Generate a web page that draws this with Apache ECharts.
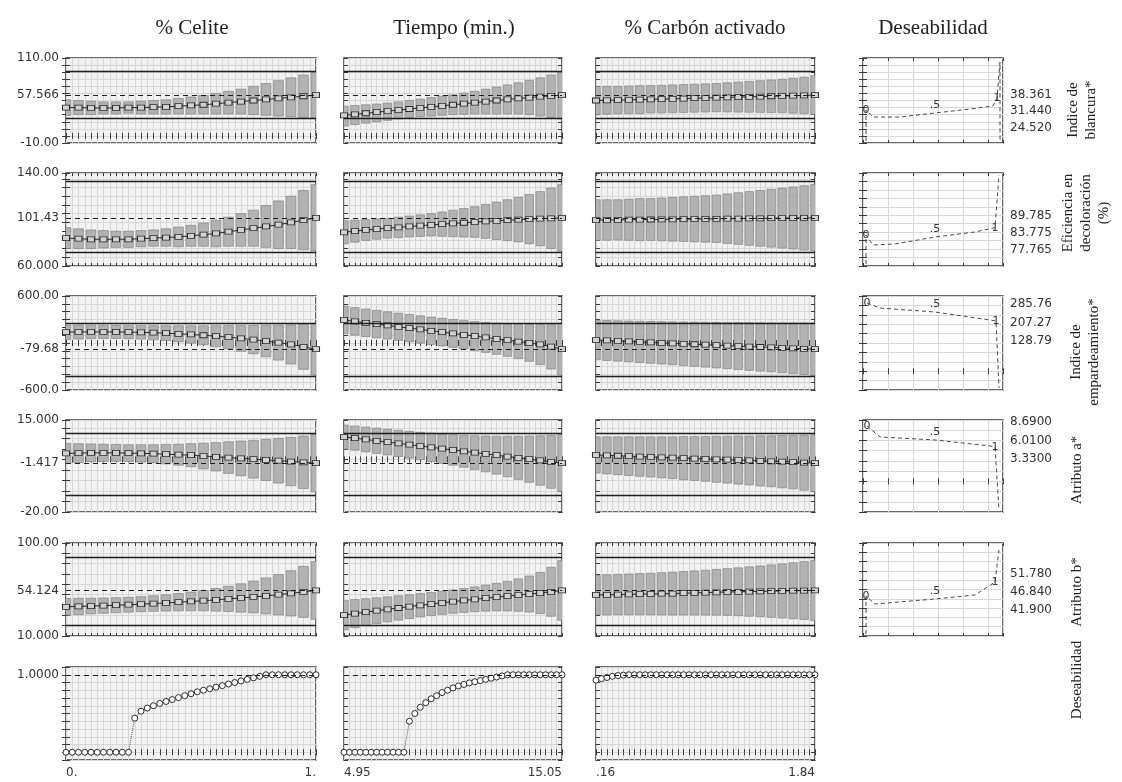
<!DOCTYPE html>
<html>
<head>
<meta charset="utf-8">
<script src="https://cdn.jsdelivr.net/npm/echarts@6/dist/echarts.min.js"></script>
<style>
  html, body { margin: 0; padding: 0; background: #fff; }
  #chart { width: 1122px; height: 782px; }
</style>
</head>
<body>
<div id="chart"></div>
<script>
// factor levels (x) for each column
const celiteX = [0, 0.025, 0.05, 0.075, 0.1, 0.125, 0.15, 0.175, 0.2, 0.225, 0.25, 0.275, 0.3, 0.325, 0.35, 0.375, 0.4, 0.425, 0.45, 0.475, 0.5,
  0.525, 0.55, 0.575, 0.6, 0.625, 0.65, 0.675, 0.7, 0.725, 0.75, 0.775, 0.8, 0.825, 0.85, 0.875, 0.9, 0.925, 0.95, 0.975, 1];
const tiempoX = [4.95, 5.2025, 5.455, 5.7075, 5.96, 6.2125, 6.465, 6.7175, 6.97, 7.2225, 7.475, 7.7275, 7.98, 8.2325, 8.485, 8.7375, 8.99, 9.2425, 9.495, 9.7475, 10.0,
  10.2525, 10.505, 10.7575, 11.01, 11.2625, 11.515, 11.7675, 12.02, 12.2725, 12.525, 12.7775, 13.03, 13.2825, 13.535, 13.7875, 14.04, 14.2925, 14.545, 14.7975, 15.05];
const carbonX = [0.16, 0.202, 0.244, 0.286, 0.328, 0.37, 0.412, 0.454, 0.496, 0.538, 0.58, 0.622, 0.664, 0.706, 0.748, 0.79, 0.832, 0.874, 0.916, 0.958, 1.0,
  1.042, 1.084, 1.126, 1.168, 1.21, 1.252, 1.294, 1.336, 1.378, 1.42, 1.462, 1.504, 1.546, 1.588, 1.63, 1.672, 1.714, 1.756, 1.798, 1.84];

const colTitles = ['% Celite', 'Tiempo (min.)', '% Carbón activado', 'Deseabilidad'];
const xTickLabels = [['0.', '1.'], ['4.95', '15.05'], ['.16', '1.84']];
const rowTitles = ['Indice de\nblancura*', 'Eficiencia en\ndecoloración\n(%)', 'Indice de\nempardeamiento*', 'Atributo a*', 'Atributo b*', 'Deseabilidad'];

// y axes of the profile rows
const rowMin = [-10, 60, -600, -20, 10, -0.1];
const rowMax = [110, 140, 600, 15, 100, 1.1];
const rowStep = [10, 7.5, 100, 4, 10, 0.1];
const yTickLabels = [['110.00', '57.566', '-10.00'], ['140.00', '101.43', '60.000'], ['600.00', '-79.68', '-600.0'],
  ['15.000', '-1.417', '-20.00'], ['100.00', '54.124', '10.000'], ['1.0000']];
const currentValue = [57.566, 101.43, -79.68, -1.417, 54.124, 1.0];
const limitLines = [[92, 25], [132.5, 71.5], [250, -420], [9.8, -13.5], [85.8, 20.6], []];

// predicted value / confidence limits (21 levels per factor)
const blancuraCelitePred = [40, 40, 39.5, 39.5, 39.5, 40, 40, 40.5, 41, 42, 43, 44, 45.5, 47, 48.5, 50, 51.5, 53, 54.5, 56, 57.6];
const blancuraCeliteHi = [51, 50, 49, 48, 48, 48, 49, 50, 51, 53, 55, 57, 60, 63, 66, 70, 74, 78, 82, 86, 90];
const blancuraCeliteLo = [29, 30, 30, 31, 31, 32, 31, 31, 31, 31, 31, 31, 31, 31, 31, 30, 29, 28, 27, 26, 25];
const blancuraTiempoPred = [29, 30.5, 32, 33.5, 35, 36.5, 38, 39.5, 41, 42.5, 44, 45.5, 47, 48.5, 50, 51.5, 53, 54, 55.5, 56.5, 57.6];
const blancuraTiempoHi = [42, 43, 44, 45, 46.5, 48, 50, 52, 54, 56, 58, 60.5, 63, 66, 69, 72, 75, 78.5, 82, 86, 90];
const blancuraTiempoLo = [14, 16, 18, 20, 22, 24, 26, 27, 28, 29, 30, 30.5, 31, 31, 31, 31, 31, 30, 28, 26, 24];
const blancuraCarbonPred = [50, 50.3, 50.6, 51, 51.3, 51.7, 52, 52.4, 52.8, 53.2, 53.6, 54, 54.4, 54.8, 55.2, 55.6, 56, 56.4, 56.8, 57.2, 57.6];
const blancuraCarbonHi = [70, 70, 70, 70.5, 71, 71, 71.5, 72, 72.5, 73, 73.5, 74, 75, 76, 77, 78, 79, 80, 81.5, 83, 85];
const blancuraCarbonLo = [30, 30.6, 31.2, 31.5, 31.6, 32.4, 32.5, 32.8, 33.1, 33.4, 33.7, 34, 33.8, 33.6, 33.4, 33.2, 33, 32.8, 32.1, 31.4, 30.2];

const eficienciaCelitePred = [84, 83.5, 83, 83, 83, 83, 83.5, 84, 84.5, 85, 86, 87, 88, 89.5, 91, 92.5, 94, 95.5, 97.5, 99.5, 101.4];
const eficienciaCeliteHi = [93, 92, 91, 90.5, 90, 90, 90.5, 91, 92, 93.5, 95, 97, 99.5, 102, 105, 108, 112, 116, 120, 125, 130];
const eficienciaCeliteLo = [75, 75, 75, 75.5, 76, 76, 76.5, 77, 77, 76.5, 77, 77, 76.5, 77, 77, 77, 76, 75, 75, 74, 73];
const eficienciaTiempoPred = [89, 90, 91, 91.8, 92.5, 93.2, 94, 94.7, 95.4, 96, 96.6, 97.2, 97.8, 98.4, 98.9, 99.4, 99.9, 100.3, 100.7, 101, 101.4];
const eficienciaTiempoHi = [99, 99.5, 100, 100.5, 101, 102, 103, 104, 105, 106.5, 108, 109.5, 111, 113, 115, 117, 119, 121.5, 124, 127, 130];
const eficienciaTiempoLo = [79, 80.5, 82, 83, 84, 84.4, 85, 85.4, 85.8, 85.5, 85.2, 84.9, 84.6, 83.8, 82.8, 81.8, 80.8, 79.1, 77.4, 75, 72.8];
const eficienciaCarbonPred = [99.5, 99.6, 99.7, 99.8, 99.9, 100, 100.1, 100.2, 100.3, 100.4, 100.5, 100.6, 100.7, 100.8, 100.9, 101, 101.1, 101.2, 101.3, 101.35, 101.43];
const eficienciaCarbonHi = [117, 117, 117, 117.5, 118, 118, 118.5, 119, 119.5, 120, 120.5, 121, 122, 123, 124, 125, 126, 127, 128, 129, 130];
const eficienciaCarbonLo = [82, 82.2, 82.4, 82.1, 81.8, 82, 81.7, 81.4, 81.1, 80.8, 80.5, 80.2, 79.4, 78.6, 77.8, 77, 76.2, 75.4, 74.6, 73.7, 72.9];

const pardeamientoCelitePred = [140, 141, 142, 142, 141, 139, 136, 131, 125, 118, 109, 99, 87, 74, 59, 43, 25, 5, -18, -48, -79.7];
const pardeamientoCeliteHi = [230, 229, 228, 226, 224, 223, 222, 221, 220, 220, 220, 220, 221, 222, 223, 224, 226, 228, 232, 240, 250];
const pardeamientoCeliteLo = [45, 50, 54, 57, 57, 55, 50, 41, 30, 16, -2, -22, -47, -74, -105, -138, -176, -218, -268, -336, -410];
const pardeamientoTiempoPred = [294, 276, 258, 241, 224, 207, 190, 173, 156, 139, 122, 105, 88, 71, 54, 37, 19, 1, -19, -45, -79.7];
const pardeamientoTiempoHi = [470, 452, 434, 416, 398, 381, 364, 347, 331, 315, 300, 286, 273, 262, 252, 244, 238, 236, 238, 243, 250];
const pardeamientoTiempoLo = [118, 100, 82, 66, 50, 33, 16, -1, -19, -37, -56, -76, -97, -120, -144, -170, -200, -234, -276, -333, -409];
const pardeamientoCarbonPred = [38, 32, 26, 20, 14, 8, 2, -4, -10, -16, -22, -28, -34, -40, -46, -51, -56, -62, -68, -74, -79.7];
const pardeamientoCarbonHi = [290, 287, 284, 281, 278, 275, 272, 270, 268, 266, 264, 262, 260, 259, 258, 257, 256, 255, 255, 255, 255];
const pardeamientoCarbonLo = [-214, -223, -232, -241, -250, -259, -268, -278, -288, -298, -308, -318, -328, -339, -350, -359, -368, -379, -391, -403, -414];

const atribACelitePred = [2.3, 2.4, 2.5, 2.5, 2.5, 2.4, 2.3, 2.2, 2.0, 1.8, 1.6, 1.3, 1.0, 0.7, 0.4, 0.1, -0.2, -0.5, -0.8, -1.1, -1.42];
const atribACeliteHi = [6.1, 6.0, 5.9, 5.8, 5.7, 5.6, 5.6, 5.6, 5.7, 5.8, 6.0, 6.2, 6.4, 6.7, 7.0, 7.3, 7.6, 8.0, 8.4, 8.9, 9.5];
const atribACeliteLo = [-1.5, -1.2, -0.9, -0.8, -0.7, -0.8, -1.0, -1.2, -1.7, -2.2, -2.8, -3.6, -4.4, -5.3, -6.2, -7.1, -8.0, -9.0, -10.0, -11.1, -12.3];
const atribATiempoPred = [8.5, 8.1, 7.6, 7.1, 6.6, 6.1, 5.6, 5.1, 4.6, 4.1, 3.6, 3.1, 2.6, 2.1, 1.6, 1.1, 0.6, 0.1, -0.4, -0.9, -1.42];
const atribATiempoHi = [13.1, 12.7, 12.3, 11.9, 11.5, 11.1, 10.7, 10.3, 10.0, 9.7, 9.4, 9.2, 9.0, 8.9, 8.8, 8.8, 8.8, 8.9, 9.0, 9.2, 9.5];
const atribATiempoLo = [3.9, 3.5, 2.9, 2.3, 1.7, 1.1, 0.5, -0.1, -0.8, -1.5, -2.2, -3.0, -3.8, -4.7, -5.6, -6.6, -7.6, -8.7, -9.8, -11.0, -12.3];
const atribACarbonPred = [1.7, 1.55, 1.4, 1.25, 1.1, 0.95, 0.8, 0.65, 0.5, 0.35, 0.2, 0.05, -0.1, -0.25, -0.4, -0.55, -0.7, -0.85, -1.0, -1.2, -1.42];
const atribACarbonHi = [8.6, 8.6, 8.6, 8.6, 8.6, 8.6, 8.6, 8.6, 8.7, 8.7, 8.7, 8.8, 8.8, 8.9, 8.9, 9.0, 9.0, 9.1, 9.2, 9.3, 9.4];
const atribACarbonLo = [-5.2, -5.5, -5.8, -6.1, -6.4, -6.7, -7.0, -7.3, -7.7, -8.0, -8.3, -8.7, -9.0, -9.4, -9.7, -10.1, -10.4, -10.8, -11.2, -11.7, -12.2];

const atribBCelitePred = [38.3, 38.6, 39, 39.4, 39.8, 40.3, 40.8, 41.4, 42, 42.7, 43.4, 44.2, 45, 45.9, 46.8, 47.8, 48.8, 50, 51.3, 52.7, 54.1];
const atribBCeliteHi = [46.5, 46.5, 46.6, 46.8, 47.1, 47.5, 48.1, 48.9, 49.9, 51.1, 52.5, 54.1, 56, 58.1, 60.5, 63.2, 66.2, 69.5, 73.2, 77.4, 82];
const atribBCeliteLo = [30.1, 30.7, 31.4, 32, 32.5, 33.1, 33.5, 33.9, 34.1, 34.3, 34.3, 34.3, 34, 33.7, 33.1, 32.4, 31.4, 30.5, 29.4, 28, 26.2];
const atribBTiempoPred = [30.3, 31.7, 33.1, 34.5, 35.8, 37.1, 38.4, 39.7, 40.9, 42.1, 43.3, 44.4, 45.5, 46.6, 47.6, 48.6, 49.6, 50.6, 51.6, 52.8, 54.1];
const atribBTiempoHi = [44.5, 45.3, 46.1, 47, 47.9, 48.9, 49.9, 51, 52.1, 53.3, 54.6, 56, 57.5, 59.2, 61, 63, 65.3, 68, 71.5, 76.5, 83];
const atribBTiempoLo = [16, 18, 20, 22, 23.7, 25.3, 26.9, 28.4, 29.7, 30.9, 32, 32.8, 33.5, 34, 34.2, 34.2, 33.9, 33.2, 31.7, 29.1, 25.2];
const atribBCarbonPred = [49.7, 49.9, 50.1, 50.3, 50.5, 50.7, 50.9, 51.1, 51.4, 51.7, 52, 52.3, 52.6, 52.8, 53, 53.2, 53.4, 53.6, 53.8, 54, 54.1];
const atribBCarbonHi = [69, 69.3, 69.6, 70, 70.4, 70.8, 71.3, 71.8, 72.4, 73, 73.7, 74.4, 75.2, 76, 76.9, 77.8, 78.8, 79.8, 80.9, 82, 83.2];
const atribBCarbonLo = [30.4, 30.5, 30.6, 30.6, 30.6, 30.6, 30.5, 30.4, 30.4, 30.4, 30.3, 30.2, 30, 29.6, 29.1, 28.6, 28, 27.4, 26.7, 26, 25];

// overall desirability (41 levels per factor)
const desCelite = [0, 0, 0, 0, 0, 0, 0, 0, 0, 0, 0, 0.44, 0.53, 0.57, 0.60, 0.63, 0.655, 0.68, 0.705, 0.73, 0.755,
  0.78, 0.80, 0.82, 0.84, 0.86, 0.88, 0.90, 0.92, 0.94, 0.96, 0.98, 1, 1, 1, 1, 1, 1, 1, 1, 1];
const desTiempo = [0, 0, 0, 0, 0, 0, 0, 0, 0, 0, 0, 0, 0.40, 0.50, 0.58, 0.64, 0.69, 0.73, 0.77, 0.80, 0.83,
  0.855, 0.875, 0.895, 0.91, 0.925, 0.94, 0.955, 0.97, 0.985, 1, 1, 1, 1, 1, 1, 1, 1, 1, 1, 1];
const desCarbon = [0.93, 0.95, 0.965, 0.98, 0.99, 0.995, 1, 1, 1, 1, 1, 1, 1, 1, 1, 1, 1, 1, 1, 1, 1,
  1, 1, 1, 1, 1, 1, 1, 1, 1, 1, 1, 1, 1, 1, 1, 1, 1, 1, 1, 1];

// desirability function curves of each response (last column)
const desAxisMin = [18, 72, -80, -4.5, 35];
const desAxisMax = [54, 105, 320, 9, 60];
const desAxisStep = [3, 3, 40, 1.5, 2.5];
const desTickLabels = [['38.361', '31.440', '24.520'], ['89.785', '83.775', '77.765'], ['285.76', '207.27', '128.79'],
  ['8.6900', '6.0100', '3.3300'], ['51.780', '46.840', '41.900']];
const desCurve1 = [[0.024, 18.85], [0.024, 31.98], [0.08, 29.01], [0.296, 29.01], [0.576, 30.71], [0.856, 32.4], [1.04, 33.67], [1.072, 37.06], [1.096, 52.3], [1.096, 19.27]];
const desCurve2 = [[0.024, 72.71], [0.024, 83.0], [0.08, 79.45], [0.256, 79.81], [0.576, 82.29], [0.896, 84.07], [1.056, 85.6], [1.088, 104.3]];
const desCurve3 = [[0.032, 290.2], [0.136, 268.9], [0.576, 251.9], [1.016, 217.9], [1.064, 213.6], [1.088, -71.5]];
const desCurve4 = [[0.032, 8.12], [0.136, 6.51], [0.576, 6.07], [1.016, 5.19], [1.056, 5.04], [1.088, -4.2]];
const desCurve5 = [[0.024, 35.54], [0.024, 45.75], [0.096, 43.6], [0.576, 44.95], [0.896, 46.02], [1.056, 49.52], [1.088, 58.12]];
const desCurveMarks = [[1, 4, 7], [1, 4, 6], [0, 2, 4], [0, 2, 4], [1, 3, 5]];
const desMarkText = ['0', '.5', '1'];

const factorX = [celiteX, tiempoX, carbonX];
const predTable = [
  [blancuraCelitePred, blancuraTiempoPred, blancuraCarbonPred],
  [eficienciaCelitePred, eficienciaTiempoPred, eficienciaCarbonPred],
  [pardeamientoCelitePred, pardeamientoTiempoPred, pardeamientoCarbonPred],
  [atribACelitePred, atribATiempoPred, atribACarbonPred],
  [atribBCelitePred, atribBTiempoPred, atribBCarbonPred]];
const hiTable = [
  [blancuraCeliteHi, blancuraTiempoHi, blancuraCarbonHi],
  [eficienciaCeliteHi, eficienciaTiempoHi, eficienciaCarbonHi],
  [pardeamientoCeliteHi, pardeamientoTiempoHi, pardeamientoCarbonHi],
  [atribACeliteHi, atribATiempoHi, atribACarbonHi],
  [atribBCeliteHi, atribBTiempoHi, atribBCarbonHi]];
const loTable = [
  [blancuraCeliteLo, blancuraTiempoLo, blancuraCarbonLo],
  [eficienciaCeliteLo, eficienciaTiempoLo, eficienciaCarbonLo],
  [pardeamientoCeliteLo, pardeamientoTiempoLo, pardeamientoCarbonLo],
  [atribACeliteLo, atribATiempoLo, atribACarbonLo],
  [atribBCeliteLo, atribBTiempoLo, atribBCarbonLo]];
const desTable = [desCelite, desTiempo, desCarbon];
const desCurves = [desCurve1, desCurve2, desCurve3, desCurve4, desCurve5];

// layout
const colLeft = [66, 344, 596, 863];
const colWidth = [250, 218, 219, 140];
const rowTop = [58, 173, 296, 420, 543, 667];
const rowHeight = [85, 93, 94, 92, 93, 93];
const xStep = [0.025, 0.2525, 0.042];

const frame = '#3a3a3a';
const labelFont = { fontFamily: 'DejaVu Sans', fontSize: 12, color: '#333' };
const grids = [], xAxes = [], yAxes = [], series = [];

function lookup(list) {
  return function (v) {
    const s = list.find(t => Math.abs(parseFloat(t) - v) < 1e-6);
    return s === undefined ? '' : s;
  };
}

function tick(len) {
  return { show: true, inside: true, length: len, lineStyle: { color: frame, width: 1 } };
}

function addPanel(p) {
  const gi = grids.length;
  grids.push({ left: p.left, top: p.top, width: p.width, height: p.height, show: true,
    backgroundColor: p.bg, borderColor: frame, borderWidth: 1.5 });
  const xi = xAxes.length;
  const base = { type: 'value', gridIndex: gi, min: p.xMin, max: p.xMax, interval: p.xStep, axisLine: { show: false } };
  xAxes.push(Object.assign({}, base, {
    position: 'bottom', axisTick: tick(3),
    splitLine: { show: true, lineStyle: { color: p.gridColor, width: 1 } },
    axisLabel: p.xLabels ? Object.assign({ show: true, customValues: p.xLabels.map(parseFloat), formatter: lookup(p.xLabels),
      alignMinLabel: 'left', alignMaxLabel: 'right', margin: 7 }, labelFont) : { show: false }
  }));
  xAxes.push(Object.assign({}, base, { position: 'top', axisTick: tick(3), splitLine: { show: false }, axisLabel: { show: false } }));
  const yi = yAxes.length;
  const ybase = { type: 'value', gridIndex: gi, min: p.yMin, max: p.yMax, interval: p.yStep, axisLine: { show: false } };
  yAxes.push(Object.assign({}, ybase, {
    position: 'left', axisTick: tick(4),
    splitLine: { show: true, lineStyle: { color: p.gridColor, width: 1 } },
    axisLabel: p.yLabels ? Object.assign({ show: true, customValues: p.yLabels.map(parseFloat), formatter: lookup(p.yLabels), margin: 7 }, labelFont) : { show: false }
  }));
  yAxes.push(Object.assign({}, ybase, {
    position: 'right', axisTick: tick(4), splitLine: { show: false },
    axisLabel: p.rLabels ? Object.assign({ show: true, customValues: p.rLabels.map(parseFloat), formatter: lookup(p.rLabels), margin: 7 }, labelFont) : { show: false }
  }));
  return { xi: xi, yi: yi };
}

for (let r = 0; r < 6; r++) {
  for (let c = 0; c < 3; c++) {
    const ax = addPanel({
      left: colLeft[c], top: rowTop[r], width: colWidth[c], height: rowHeight[r], bg: '#f2f2f2', gridColor: '#d7d7d7',
      xMin: factorX[c][0], xMax: factorX[c][factorX[c].length - 1], xStep: xStep[c],
      yMin: rowMin[r], yMax: rowMax[r], yStep: rowStep[r],
      xLabels: r === 5 ? xTickLabels[c] : null,
      yLabels: c === 0 ? yTickLabels[r] : null
    });
    const refLines = [{ yAxis: currentValue[r], lineStyle: { type: [5, 4], color: '#1e1e1e', width: 1 } }]
      .concat(limitLines[r].map(v => ({ yAxis: v, lineStyle: { type: 'solid', color: '#1e1e1e', width: 1.3 } })));
    if (r < 5) {
      const xs = factorX[c].filter((_, i) => i % 2 === 0);
      const pred = predTable[r][c], hi = hiTable[r][c], lo = loTable[r][c];
      const step = xs[1] - xs[0];
      series.push({
        type: 'custom', xAxisIndex: ax.xi, yAxisIndex: ax.yi, silent: true, clip: true,
        data: xs.map((x, i) => [x, lo[i], hi[i]]),
        renderItem: function (params, api) {
          const top = api.coord([api.value(0), api.value(2)]);
          const bot = api.coord([api.value(0), api.value(1)]);
          const w = api.size([step, 0])[0] * 0.78;
          return { type: 'rect', shape: { x: top[0] - w / 2, y: top[1], width: w, height: bot[1] - top[1] },
            style: { fill: '#b2b2b2', stroke: '#787878', lineWidth: 0.6 } };
        }
      });
      series.push({
        type: 'line', xAxisIndex: ax.xi, yAxisIndex: ax.yi, silent: true, z: 3,
        data: xs.map((x, i) => [x, pred[i]]),
        symbol: 'rect', symbolSize: [7, 5], showAllSymbol: true,
        itemStyle: { color: '#d2d2d2', borderColor: '#2c2c2c', borderWidth: 0.9 },
        lineStyle: { color: '#2c2c2c', width: 1 },
        markLine: { silent: true, symbol: 'none', label: { show: false }, data: refLines }
      });
    } else {
      series.push({
        type: 'line', xAxisIndex: ax.xi, yAxisIndex: ax.yi, silent: true, z: 3,
        data: factorX[c].map((x, i) => [x, desTable[c][i]]),
        symbol: 'circle', symbolSize: 6, showAllSymbol: true,
        itemStyle: { color: '#ffffff', borderColor: '#2c2c2c', borderWidth: 1 },
        lineStyle: { color: '#555', width: 1, type: 'dotted' },
        markLine: { silent: true, symbol: 'none', label: { show: false }, data: refLines }
      });
    }
  }
  if (r < 5) {
    const ax = addPanel({
      left: colLeft[3], top: rowTop[r], width: colWidth[3], height: rowHeight[r], bg: '#ffffff', gridColor: '#d9d9d9',
      xMin: 0, xMax: 1.12, xStep: 0.2,
      yMin: desAxisMin[r], yMax: desAxisMax[r], yStep: desAxisStep[r],
      rLabels: desTickLabels[r]
    });
    const marks = desCurveMarks[r];
    series.push({
      type: 'line', xAxisIndex: ax.xi, yAxisIndex: ax.yi, silent: true,
      data: desCurves[r].map((pt, i) => {
        const k = marks.indexOf(i);
        if (k < 0) return pt;
        return { value: pt, label: { show: true, formatter: desMarkText[k], position: k === 1 ? 'top' : 'inside',
          distance: 2, fontFamily: 'DejaVu Sans', fontSize: 11, color: '#333' } };
      }),
      symbol: 'circle', symbolSize: 1, showAllSymbol: true,
      itemStyle: { color: 'rgba(0,0,0,0)' },
      lineStyle: { color: '#4a4a4a', width: 1, type: [4, 3] }
    });
  }
}

// column titles and row titles
const colTitleX = [192, 454, 705, 933];
const rowTitlePos = [[1082, 110], [1086, 213], [1085, 352], [1077, 470], [1077, 592], [1077, 680]];
const graphics = [];
colTitles.forEach((t, i) => graphics.push({
  type: 'text', x: colTitleX[i], y: 28, silent: true,
  style: { text: t, font: '21px "Liberation Serif"', fill: '#222', align: 'center', verticalAlign: 'middle',
    textAlign: 'center', textVerticalAlign: 'middle' }
}));
rowTitles.forEach((t, i) => graphics.push({
  type: 'text', x: rowTitlePos[i][0], y: rowTitlePos[i][1], rotation: Math.PI / 2, silent: true,
  style: { text: t, font: '15px "Liberation Serif"', fill: '#222', align: 'center', verticalAlign: 'middle',
    textAlign: 'center', textVerticalAlign: 'middle', lineHeight: 18 }
}));

const chart = echarts.init(document.getElementById('chart'));
chart.setOption({
  animation: false,
  backgroundColor: '#ffffff',
  grid: grids,
  xAxis: xAxes,
  yAxis: yAxes,
  series: series,
  graphic: graphics
});
</script>
</body>
</html>
